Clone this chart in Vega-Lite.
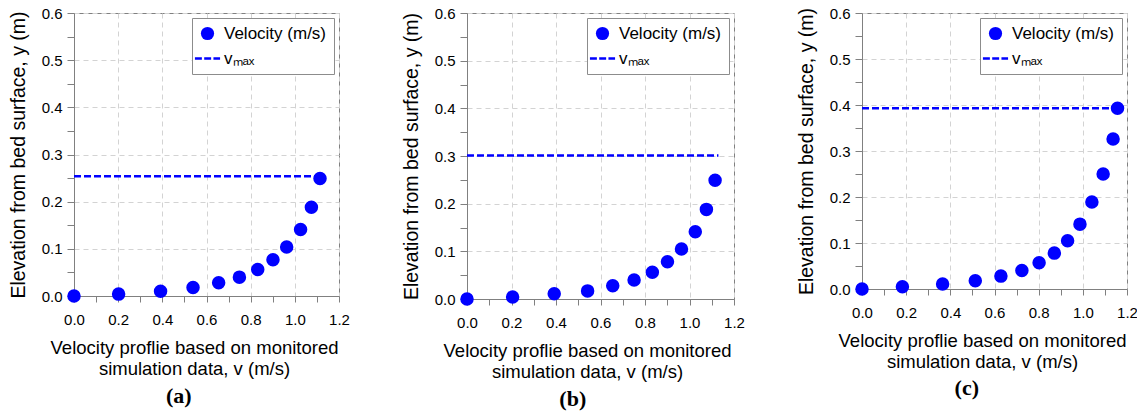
{
  "$schema": "https://vega.github.io/schema/vega-lite/v6.json",
  "padding": {"left": 7, "top": 5, "right": 0, "bottom": 2},
  "spacing": 50,
  "datasets": {
    "a_pts": [
      {"series": "Velocity (m/s)", "v": 0, "y": 0},
      {"series": "Velocity (m/s)", "v": 0.202, "y": 0.004},
      {"series": "Velocity (m/s)", "v": 0.392, "y": 0.01},
      {"series": "Velocity (m/s)", "v": 0.539, "y": 0.018},
      {"series": "Velocity (m/s)", "v": 0.655, "y": 0.028},
      {"series": "Velocity (m/s)", "v": 0.749, "y": 0.04},
      {"series": "Velocity (m/s)", "v": 0.832, "y": 0.056},
      {"series": "Velocity (m/s)", "v": 0.901, "y": 0.077},
      {"series": "Velocity (m/s)", "v": 0.963, "y": 0.104},
      {"series": "Velocity (m/s)", "v": 1.026, "y": 0.141},
      {"series": "Velocity (m/s)", "v": 1.075, "y": 0.188},
      {"series": "Velocity (m/s)", "v": 1.114, "y": 0.249}
    ],
    "a_max": [{"v": 0, "v2": 1.114, "y": 0.254}],
    "b_pts": [
      {"series": "Velocity (m/s)", "v": 0, "y": 0},
      {"series": "Velocity (m/s)", "v": 0.205, "y": 0.004},
      {"series": "Velocity (m/s)", "v": 0.392, "y": 0.011},
      {"series": "Velocity (m/s)", "v": 0.542, "y": 0.017},
      {"series": "Velocity (m/s)", "v": 0.655, "y": 0.028},
      {"series": "Velocity (m/s)", "v": 0.751, "y": 0.04},
      {"series": "Velocity (m/s)", "v": 0.833, "y": 0.056},
      {"series": "Velocity (m/s)", "v": 0.901, "y": 0.078},
      {"series": "Velocity (m/s)", "v": 0.964, "y": 0.105},
      {"series": "Velocity (m/s)", "v": 1.026, "y": 0.141},
      {"series": "Velocity (m/s)", "v": 1.076, "y": 0.188},
      {"series": "Velocity (m/s)", "v": 1.115, "y": 0.249}
    ],
    "b_max": [{"v": 0, "v2": 1.13, "y": 0.301}],
    "c_pts": [
      {"series": "Velocity (m/s)", "v": 0, "y": 0},
      {"series": "Velocity (m/s)", "v": 0.183, "y": 0.005},
      {"series": "Velocity (m/s)", "v": 0.365, "y": 0.011},
      {"series": "Velocity (m/s)", "v": 0.513, "y": 0.018},
      {"series": "Velocity (m/s)", "v": 0.629, "y": 0.028},
      {"series": "Velocity (m/s)", "v": 0.724, "y": 0.04},
      {"series": "Velocity (m/s)", "v": 0.802, "y": 0.057},
      {"series": "Velocity (m/s)", "v": 0.871, "y": 0.078},
      {"series": "Velocity (m/s)", "v": 0.931, "y": 0.105},
      {"series": "Velocity (m/s)", "v": 0.987, "y": 0.141},
      {"series": "Velocity (m/s)", "v": 1.041, "y": 0.189},
      {"series": "Velocity (m/s)", "v": 1.092, "y": 0.25},
      {"series": "Velocity (m/s)", "v": 1.137, "y": 0.326},
      {"series": "Velocity (m/s)", "v": 1.157, "y": 0.393}
    ],
    "c_max": [{"v": 0, "v2": 1.157, "y": 0.393}]
  },
  "hconcat": [
    {
      "width": 265, "height": 283,
      "title": {"text": "(a)", "offset": 8},
      "encoding": {
        "x": {"field": "v", "type": "quantitative", "scale": {"domain": [0, 1.2], "nice": false, "zero": false},
          "axis": {"values": [0,0.1,0.2,0.3,0.4,0.5,0.6,0.7,0.8,0.9,1,1.1,1.2],
            "labelExpr": "round(datum.value*10)%2==0 ? format(datum.value,'.1f') : ''",
            "gridOpacity": {"condition": {"test": "round(datum.value*10)%2==0", "value": 1}, "value": 0},
            "title": ["Velocity proflie based on monitored", "simulation data, v (m/s)"], "titleX": 120}},
        "y": {"field": "y", "type": "quantitative", "scale": {"domain": [0, 0.6], "nice": false},
          "axis": {"values": [0,0.05,0.1,0.15,0.2,0.25,0.3,0.35,0.4,0.45,0.5,0.55,0.6],
            "labelExpr": "round(datum.value*20)%2==0 ? format(datum.value,'.1f') : ''",
            "gridOpacity": {"condition": {"test": "round(datum.value*20)%2==0", "value": 1}, "value": 0},
            "title": "Elevation from bed surface, y (m)"}}
      },
      "layer": [
        {"data": {"name": "a_max"}, "mark": {"type": "rule", "color": "#0000ff", "strokeWidth": 2.5, "strokeDash": [7, 3]},
          "encoding": {"x2": {"field": "v2"}}},
        {"data": {"name": "a_pts"}, "mark": {"type": "point", "filled": true, "size": 121, "fill": "#0000ff", "stroke": "#0000ff", "strokeWidth": 2.5, "opacity": 1},
          "encoding": {"shape": {"field": "series", "type": "nominal",
            "scale": {"domain": ["Velocity (m/s)", "vₘₐₓ"], "range": ["circle", "M-1.9,-0.19H-0.85V0.19H-1.9Z M-0.5,-0.19H0.55V0.19H-0.5Z M0.9,-0.19H1.9V0.19H0.9Z"]},
            "legend": {"title": null, "orient": "top-right", "offset": 5, "padding": 7, "strokeColor": "#8c8c8c", "fillColor": "#ffffff",
              "labelFontSize": 17, "labelOffset": 8, "rowPadding": 7, "symbolSize": 175, "symbolStrokeWidth": 0, "symbolFillColor": "#0000ff"}}}}
      ]
    },
    {
      "width": 267, "height": 286,
      "title": {"text": "(b)", "offset": 8},
      "encoding": {
        "x": {"field": "v", "type": "quantitative", "scale": {"domain": [0, 1.2], "nice": false, "zero": false},
          "axis": {"values": [0,0.1,0.2,0.3,0.4,0.5,0.6,0.7,0.8,0.9,1,1.1,1.2],
            "labelExpr": "round(datum.value*10)%2==0 ? format(datum.value,'.1f') : ''",
            "gridOpacity": {"condition": {"test": "round(datum.value*10)%2==0", "value": 1}, "value": 0},
            "title": ["Velocity proflie based on monitored", "simulation data, v (m/s)"], "titleX": 120}},
        "y": {"field": "y", "type": "quantitative", "scale": {"domain": [0, 0.6], "nice": false},
          "axis": {"values": [0,0.05,0.1,0.15,0.2,0.25,0.3,0.35,0.4,0.45,0.5,0.55,0.6],
            "labelExpr": "round(datum.value*20)%2==0 ? format(datum.value,'.1f') : ''",
            "gridOpacity": {"condition": {"test": "round(datum.value*20)%2==0", "value": 1}, "value": 0},
            "title": "Elevation from bed surface, y (m)"}}
      },
      "layer": [
        {"data": {"name": "b_max"}, "mark": {"type": "rule", "color": "#0000ff", "strokeWidth": 2.5, "strokeDash": [7, 3]},
          "encoding": {"x2": {"field": "v2"}}},
        {"data": {"name": "b_pts"}, "mark": {"type": "point", "filled": true, "size": 121, "fill": "#0000ff", "stroke": "#0000ff", "strokeWidth": 2.5, "opacity": 1},
          "encoding": {"shape": {"field": "series", "type": "nominal",
            "scale": {"domain": ["Velocity (m/s)", "vₘₐₓ"], "range": ["circle", "M-1.9,-0.19H-0.85V0.19H-1.9Z M-0.5,-0.19H0.55V0.19H-0.5Z M0.9,-0.19H1.9V0.19H0.9Z"]},
            "legend": {"title": null, "orient": "top-right", "offset": 5, "padding": 7, "strokeColor": "#8c8c8c", "fillColor": "#ffffff",
              "labelFontSize": 17, "labelOffset": 8, "rowPadding": 7, "symbolSize": 175, "symbolStrokeWidth": 0, "symbolFillColor": "#0000ff"}}}}
      ]
    },
    {
      "width": 265, "height": 276,
      "title": {"text": "(c)", "offset": 7},
      "encoding": {
        "x": {"field": "v", "type": "quantitative", "scale": {"domain": [0, 1.2], "nice": false, "zero": false},
          "axis": {"values": [0,0.1,0.2,0.3,0.4,0.5,0.6,0.7,0.8,0.9,1,1.1,1.2],
            "labelExpr": "round(datum.value*10)%2==0 ? format(datum.value,'.1f') : ''",
            "gridOpacity": {"condition": {"test": "round(datum.value*10)%2==0", "value": 1}, "value": 0},
            "title": ["Velocity proflie based on monitored", "simulation data, v (m/s)"], "titleX": 120}},
        "y": {"field": "y", "type": "quantitative", "scale": {"domain": [0, 0.6], "nice": false},
          "axis": {"values": [0,0.05,0.1,0.15,0.2,0.25,0.3,0.35,0.4,0.45,0.5,0.55,0.6],
            "labelExpr": "round(datum.value*20)%2==0 ? format(datum.value,'.1f') : ''",
            "gridOpacity": {"condition": {"test": "round(datum.value*20)%2==0", "value": 1}, "value": 0},
            "title": "Elevation from bed surface, y (m)"}}
      },
      "layer": [
        {"data": {"name": "c_max"}, "mark": {"type": "rule", "color": "#0000ff", "strokeWidth": 2.5, "strokeDash": [7, 3]},
          "encoding": {"x2": {"field": "v2"}}},
        {"data": {"name": "c_pts"}, "mark": {"type": "point", "filled": true, "size": 121, "fill": "#0000ff", "stroke": "#0000ff", "strokeWidth": 2.5, "opacity": 1},
          "encoding": {"shape": {"field": "series", "type": "nominal",
            "scale": {"domain": ["Velocity (m/s)", "vₘₐₓ"], "range": ["circle", "M-1.9,-0.19H-0.85V0.19H-1.9Z M-0.5,-0.19H0.55V0.19H-0.5Z M0.9,-0.19H1.9V0.19H0.9Z"]},
            "legend": {"title": null, "orient": "top-right", "offset": 5, "padding": 7, "strokeColor": "#8c8c8c", "fillColor": "#ffffff",
              "labelFontSize": 17, "labelOffset": 8, "rowPadding": 7, "symbolSize": 175, "symbolStrokeWidth": 0, "symbolFillColor": "#0000ff"}}}}
      ]
    }
  ],
  "resolve": {"scale": {"shape": "independent"}, "legend": {"shape": "independent"}},
  "config": {
    "font": "Liberation Sans",
    "view": {"stroke": "#808080", "strokeWidth": 1},
    "axis": {
      "domainColor": "#808080", "tickColor": "#808080", "tickSize": 6,
      "labelFont": "Liberation Sans", "labelFontSize": 15, "labelColor": "#000000",
      "labelFlush": false, "labelOverlap": false,
      "titleFont": "Liberation Sans", "titleFontWeight": "normal", "titleColor": "#000000", "titleLineHeight": 21,
      "gridColor": "#d3d3d3", "gridDash": [5, 4]
    },
    "axisX": {"labelPadding": 10, "titlePadding": 11, "titleFontSize": 18.5},
    "axisY": {"tickSize": 7, "labelPadding": 5, "titlePadding": 13, "titleFontSize": 19.5},
    "legend": {"labelFont": "Liberation Sans", "labelColor": "#000000"},
    "title": {"font": "Liberation Serif", "fontSize": 22, "fontWeight": "bold", "color": "#000000", "orient": "bottom", "anchor": "middle", "frame": "bounds"}
  }
}
